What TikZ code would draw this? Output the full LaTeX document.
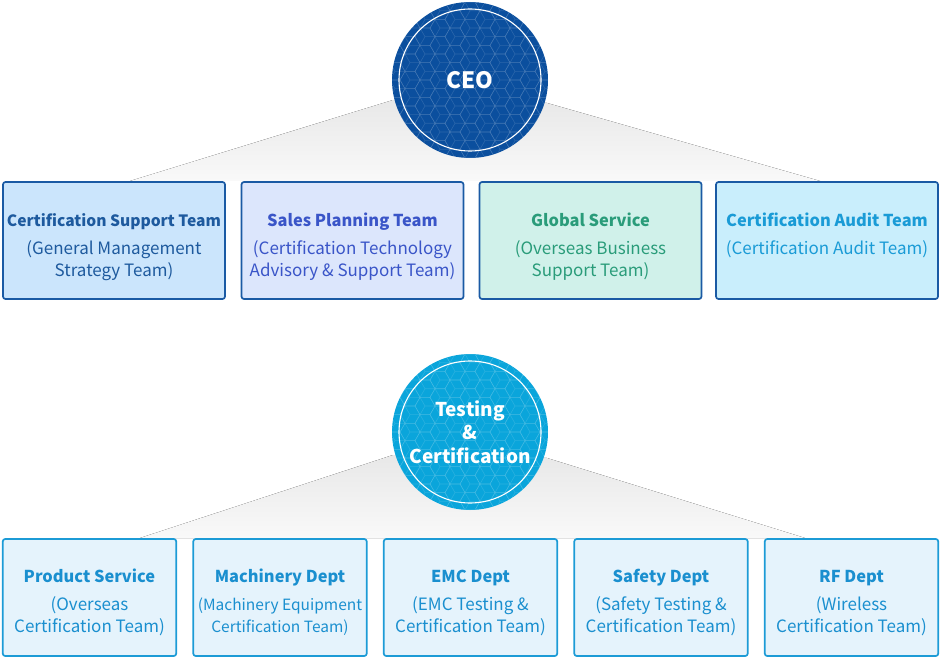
\documentclass[tikz,border=0pt]{standalone}
\usepackage{fontspec}
\setmainfont{Noto Sans CJK KR}
\definecolor{orgmarine}{HTML}{0B4F9E}
\definecolor{orgazur}{HTML}{0AA5DB}
\definecolor{orgcadre}{HTML}{1A5AA4}
\definecolor{orgcadreclair}{HTML}{1C9BD6}
\definecolor{orgtexte}{HTML}{1E5A9E}
\definecolor{orgviolet}{HTML}{3A55C8}
\definecolor{orgvert}{HTML}{2A9C7A}
\definecolor{orgciel}{HTML}{1A9BD6}
\definecolor{orgdept}{HTML}{1A8FCF}
\definecolor{fondbleu}{HTML}{CBE5FC}
\definecolor{fondlavande}{HTML}{DCE6FC}
\definecolor{fondmenthe}{HTML}{D0F1EA}
\definecolor{fondciel}{HTML}{C9EEFC}
\definecolor{fonddept}{HTML}{E5F3FC}
\definecolor{ombre}{HTML}{E8E8E8}
\definecolor{ombreclair}{HTML}{F9F9F9}

\begin{document}
\begin{tikzpicture}[x=1pt, y=-1pt,
  pole/.style={circle, minimum size=156pt, inner sep=0pt, text=white, align=center,
    font=\bfseries\fontsize{19}{23.5}\selectfont,
    path picture={
      \path (path picture bounding box.center) coordinate (hc);
      \foreach \i in {0,...,12} \foreach \j in {0,...,10} {
        \pgfmathsetmacro\hx{15*(\i-6)}
        \pgfmathsetmacro\hy{17.32*(\j-5)+8.66*mod(\i,2)}
        \draw[white, opacity=.13, line width=.6pt]
          ([shift={(\hx,\hy)}]hc) +(0:10) -- +(60:10) -- +(120:10) -- +(180:10)
          -- +(240:10) -- +(300:10) -- cycle
          ([shift={(\hx,\hy)}]hc) -- +(0:10)
          ([shift={(\hx,\hy)}]hc) -- +(120:10)
          ([shift={(\hx,\hy)}]hc) -- +(240:10);
      }
    }},
  anneau/.style={draw=white, line width=1.1pt},
  teambox/.style={draw=orgcadre, line width=1.7pt, rounded corners=2.5pt,
    minimum width=222pt, minimum height=117pt, inner sep=0pt},
  deptbox/.style={draw=orgcadreclair, line width=1.7pt, rounded corners=2.5pt,
    fill=fonddept, minimum width=173.5pt, minimum height=117pt, inner sep=0pt},
  boxtext/.style={anchor=base, align=center, inner sep=0pt,
    font=\fontsize{17}{22}\selectfont}
]
\useasboundingbox (0,0) rectangle (940,658);

% fan shadows behind the circles
\fill[top color=ombre, bottom color=ombreclair] (393,100) -- (547,103) -- (820,181) -- (130,181) -- cycle;
\fill[top color=ombre, bottom color=ombreclair] (393,455) -- (547,458) -- (805,538) -- (140,538) -- cycle;

% CEO
\node[pole, fill=orgmarine, font=\bfseries\fontsize{22.5}{24}\selectfont] (ceo) at (470,80) {CEO};
\draw[anneau] (ceo.center) circle (71);

% top row
\node[teambox, fill=fondbleu] (support) at (114,240.5) {};
\node[teambox, fill=fondlavande] (sales) at (352.5,240.5) {};
\node[teambox, fill=fondmenthe] (global) at (590.5,240.5) {};
\node[teambox, fill=fondciel] (audit) at (827,240.5) {};

% base = last line, so shift by the whole block
\node[boxtext, text=orgtexte] (supporttxt) at ([yshift=-95]support.north)
  {{\bfseries\fontsize{15.6}{22}\selectfont Certification Support Team}\\[6pt](General Management\\Strategy Team)};
\node[boxtext, text=orgviolet] (salestxt) at ([yshift=-95]sales.north)
  {{\bfseries\fontsize{16.4}{22}\selectfont Sales Planning Team}\\[6pt](Certification Technology\\Advisory \& Support Team)};
\node[boxtext, text=orgvert] (globaltxt) at ([yshift=-95]global.north)
  {{\bfseries\fontsize{16.4}{22}\selectfont Global Service}\\[6pt](Overseas Business\\Support Team)};
\node[boxtext, text=orgciel] (audittxt) at ([yshift=-73]audit.north)
  {{\bfseries\fontsize{16.4}{22}\selectfont Certification Audit Team}\\[6pt](Certification Audit Team)};

% Testing & Certification
\node[pole, fill=orgazur] (tc) at (470,432) {Testing\\\&\\Certification};
\draw[anneau] (tc.center) circle (71);

% bottom row
\node[deptbox] (product) at (89.5,597.5) {};
\node[deptbox] (machinery) at (280,597.5) {};
\node[deptbox] (emc) at (470.5,597.5) {};
\node[deptbox] (safety) at (661,597.5) {};
\node[deptbox] (rf) at (851.5,597.5) {};

\node[boxtext, text=orgdept] (producttxt) at ([yshift=-94]product.north)
  {{\bfseries\fontsize{16.4}{22}\selectfont Product Service}\\[6pt](Overseas\\Certification Team)};
\node[boxtext, text=orgdept] (machinerytxt) at ([yshift=-94]machinery.north)
  {{\bfseries\fontsize{16.4}{22}\selectfont Machinery Dept}\\[6pt]{\fontsize{15.5}{22}\selectfont(Machinery Equipment}\\{\fontsize{15.5}{22}\selectfont Certification Team)}};
\node[boxtext, text=orgdept] (emctxt) at ([yshift=-94]emc.north)
  {{\bfseries\fontsize{16.4}{22}\selectfont EMC Dept}\\[6pt](EMC Testing \&\\Certification Team)};
\node[boxtext, text=orgdept] (safetytxt) at ([yshift=-94]safety.north)
  {{\bfseries\fontsize{16.4}{22}\selectfont Safety Dept}\\[6pt](Safety Testing \&\\Certification Team)};
\node[boxtext, text=orgdept] (rftxt) at ([yshift=-94]rf.north)
  {{\bfseries\fontsize{16.4}{22}\selectfont RF Dept}\\[6pt](Wireless\\Certification Team)};
\end{tikzpicture}
\end{document}
